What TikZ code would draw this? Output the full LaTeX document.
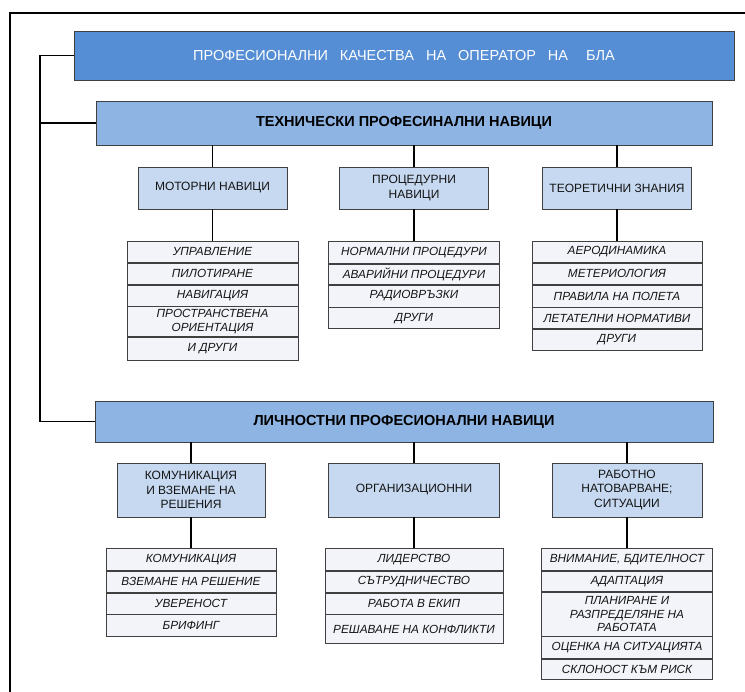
\documentclass[tikz,border=0pt]{standalone}
\usepackage{fontspec}
\setmainfont{Liberation Sans}
\usetikzlibrary{positioning}

\definecolor{hdrblue}{RGB}{85,142,213}
\definecolor{barblue}{RGB}{141,180,226}
\definecolor{grpblue}{RGB}{198,217,241}
\definecolor{rowfill}{RGB}{242,244,249}
\definecolor{edgegray}{RGB}{64,64,64}
\definecolor{txtgray}{RGB}{20,20,20}

\begin{document}
\begin{tikzpicture}[x=1pt, y=-1pt,
	mainbox/.style={draw=edgegray, line width=0.8pt, fill=hdrblue, text=white, minimum width=660pt, minimum height=49pt, font=\fontsize{14.5}{17}\selectfont},
	barbox/.style={draw=edgegray, line width=0.8pt, fill=barblue, text=black, minimum width=616pt, minimum height=44pt, font=\bfseries\fontsize{14.5}{17}\selectfont},
	groupbox/.style={draw=edgegray, line width=0.8pt, fill=grpblue, text=txtgray, minimum width=149pt, minimum height=42pt, inner sep=1pt, align=center, font=\fontsize{12}{14.5}\selectfont},
	itembox/.style={draw=edgegray, line width=0.8pt, fill=rowfill, text=txtgray, minimum width=171pt, minimum height=21pt, inner sep=0pt, align=center, font=\itshape\fontsize{11.8}{13.5}\selectfont},
	link/.style={draw=black, line width=1.6pt},
	frame/.style={draw=black, line width=1.6pt}]
	
	\useasboundingbox (0,0) rectangle (745,692);
	\draw[frame] (10,692) -- (10,13) -- (745,13);
	
	% headers
	\node[mainbox] (top) at (404,55.5) {ПРОФЕСИОНАЛНИ\hspace{12pt}КАЧЕСТВА\hspace{12pt}НА\hspace{12pt}ОПЕРАТОР\hspace{12pt}НА\hspace{18pt}БЛА};
	\node[barbox] (tech) at (404,123) {ТЕХНИЧЕСКИ ПРОФЕСИНАЛНИ НАВИЦИ};
	\node[barbox, minimum width=618pt, minimum height=41pt] (pers) at (404,421.5) {ЛИЧНОСТНИ ПРОФЕСИОНАЛНИ НАВИЦИ};
	
	% technical groups
	\node[groupbox] (motor) at (212.5,188) {МОТОРНИ НАВИЦИ};
	\node[groupbox] (proc) at (414,188) {ПРОЦЕДУРНИ\\НАВИЦИ};
	\node[groupbox] (theory) at (617,188) {ТЕОРЕТИЧНИ ЗНАНИЯ};
	
	\node[itembox, anchor=north] (m1) at (212.5,241) {УПРАВЛЕНИЕ};
	\node[itembox, below=0pt of m1] (m2) {ПИЛОТИРАНЕ};
	\node[itembox, below=0pt of m2] (m3) {НАВИГАЦИЯ};
	\node[itembox, below=0pt of m3, minimum height=30pt] (m4) {ПРОСТРАНСТВЕНА\\ОРИЕНТАЦИЯ};
	\node[itembox, below=0pt of m4, minimum height=23pt] (m5) {И ДРУГИ};
	
	\node[itembox, anchor=north, minimum height=22pt] (p1) at (414,241) {НОРМАЛНИ ПРОЦЕДУРИ};
	\node[itembox, below=0pt of p1, minimum height=20pt] (p2) {АВАРИЙНИ ПРОЦЕДУРИ};
	\node[itembox, below=0pt of p2, minimum height=22pt] (p3) {РАДИОВРЪЗКИ};
	\node[itembox, below=0pt of p3] (p4) {ДРУГИ};
	
	\node[itembox, anchor=north, minimum width=170pt] (t1) at (617,241) {АЕРОДИНАМИКА};
	\node[itembox, below=0pt of t1, minimum width=170pt] (t2) {МЕТЕРИОЛОГИЯ};
	\node[itembox, below=0pt of t2, minimum width=170pt, minimum height=22pt] (t3) {ПРАВИЛА НА ПОЛЕТА};
	\node[itembox, below=0pt of t3, minimum width=170pt] (t4) {ЛЕТАТЕЛНИ НОРМАТИВИ};
	\node[itembox, below=0pt of t4, minimum width=170pt] (t5) {ДРУГИ};
	
	% personal groups
	\node[groupbox, minimum width=148pt, minimum height=54pt] (comm) at (191,490) {КОМУНИКАЦИЯ\\И ВЗЕМАНЕ НА\\РЕШЕНИЯ};
	\node[groupbox, minimum width=171pt, minimum height=54pt] (org) at (414,490) {ОРГАНИЗАЦИОННИ};
	\node[groupbox, minimum width=150pt, minimum height=54pt] (load) at (627,490) {РАБОТНО\\НАТОВАРВАНЕ;\\СИТУАЦИИ};
	
	\node[itembox, anchor=north, minimum width=170pt, minimum height=22pt] (c1) at (191,548) {КОМУНИКАЦИЯ};
	\node[itembox, below=0pt of c1, minimum width=170pt] (c2) {ВЗЕМАНЕ НА РЕШЕНИЕ};
	\node[itembox, below=0pt of c2, minimum width=170pt] (c3) {УВЕРЕНОСТ};
	\node[itembox, below=0pt of c3, minimum width=170pt, minimum height=22pt] (c4) {БРИФИНГ};
	
	\node[itembox, anchor=north, minimum width=178pt, minimum height=22pt] (o1) at (414,548) {ЛИДЕРСТВО};
	\node[itembox, below=0pt of o1, minimum width=178pt] (o2) {СЪТРУДНИЧЕСТВО};
	\node[itembox, below=0pt of o2, minimum width=178pt] (o3) {РАБОТА В ЕКИП};
	\node[itembox, below=0pt of o3, minimum width=178pt, minimum height=29pt] (o4) {РЕШАВАНЕ НА КОНФЛИКТИ};
	
	\node[itembox, anchor=north, minimum height=22pt] (w1) at (627,548) {ВНИМАНИЕ, БДИТЕЛНОСТ};
	\node[itembox, below=0pt of w1, minimum height=20pt] (w2) {АДАПТАЦИЯ};
	\node[itembox, below=0pt of w2, minimum height=44pt] (w3) {ПЛАНИРАНЕ И\\РАЗПРЕДЕЛЯНЕ НА\\РАБОТАТА};
	\node[itembox, below=0pt of w3, minimum height=22pt] (w4) {ОЦЕНКА НА СИТУАЦИЯТА};
	\node[itembox, below=0pt of w4, minimum height=20pt] (w5) {СКЛОНОСТ КЪМ РИСК};
	
	% connectors
	\coordinate (spine) at (40,0);
	\draw[link] (top.west) -- (top.west -| spine) -- (pers.west -| spine) -- (pers.west);
	\draw[link] (tech.west -| spine) -- (tech.west);
	
	\draw[link] (tech.south -| motor) -- (motor);
	\draw[link] (tech.south -| proc) -- (proc);
	\draw[link] (tech.south -| theory) -- (theory);
	\draw[link] (motor) -- (m1);
	\draw[link] (proc) -- (p1);
	\draw[link] (theory) -- (t1);
	
	\draw[link] (pers.south -| comm) -- (comm);
	\draw[link] (pers.south -| org) -- (org);
	\draw[link] (pers.south -| load) -- (load);
	\draw[link] (comm) -- (c1);
	\draw[link] (org) -- (o1);
	\draw[link] (load) -- (w1);
	
\end{tikzpicture}
\end{document}
